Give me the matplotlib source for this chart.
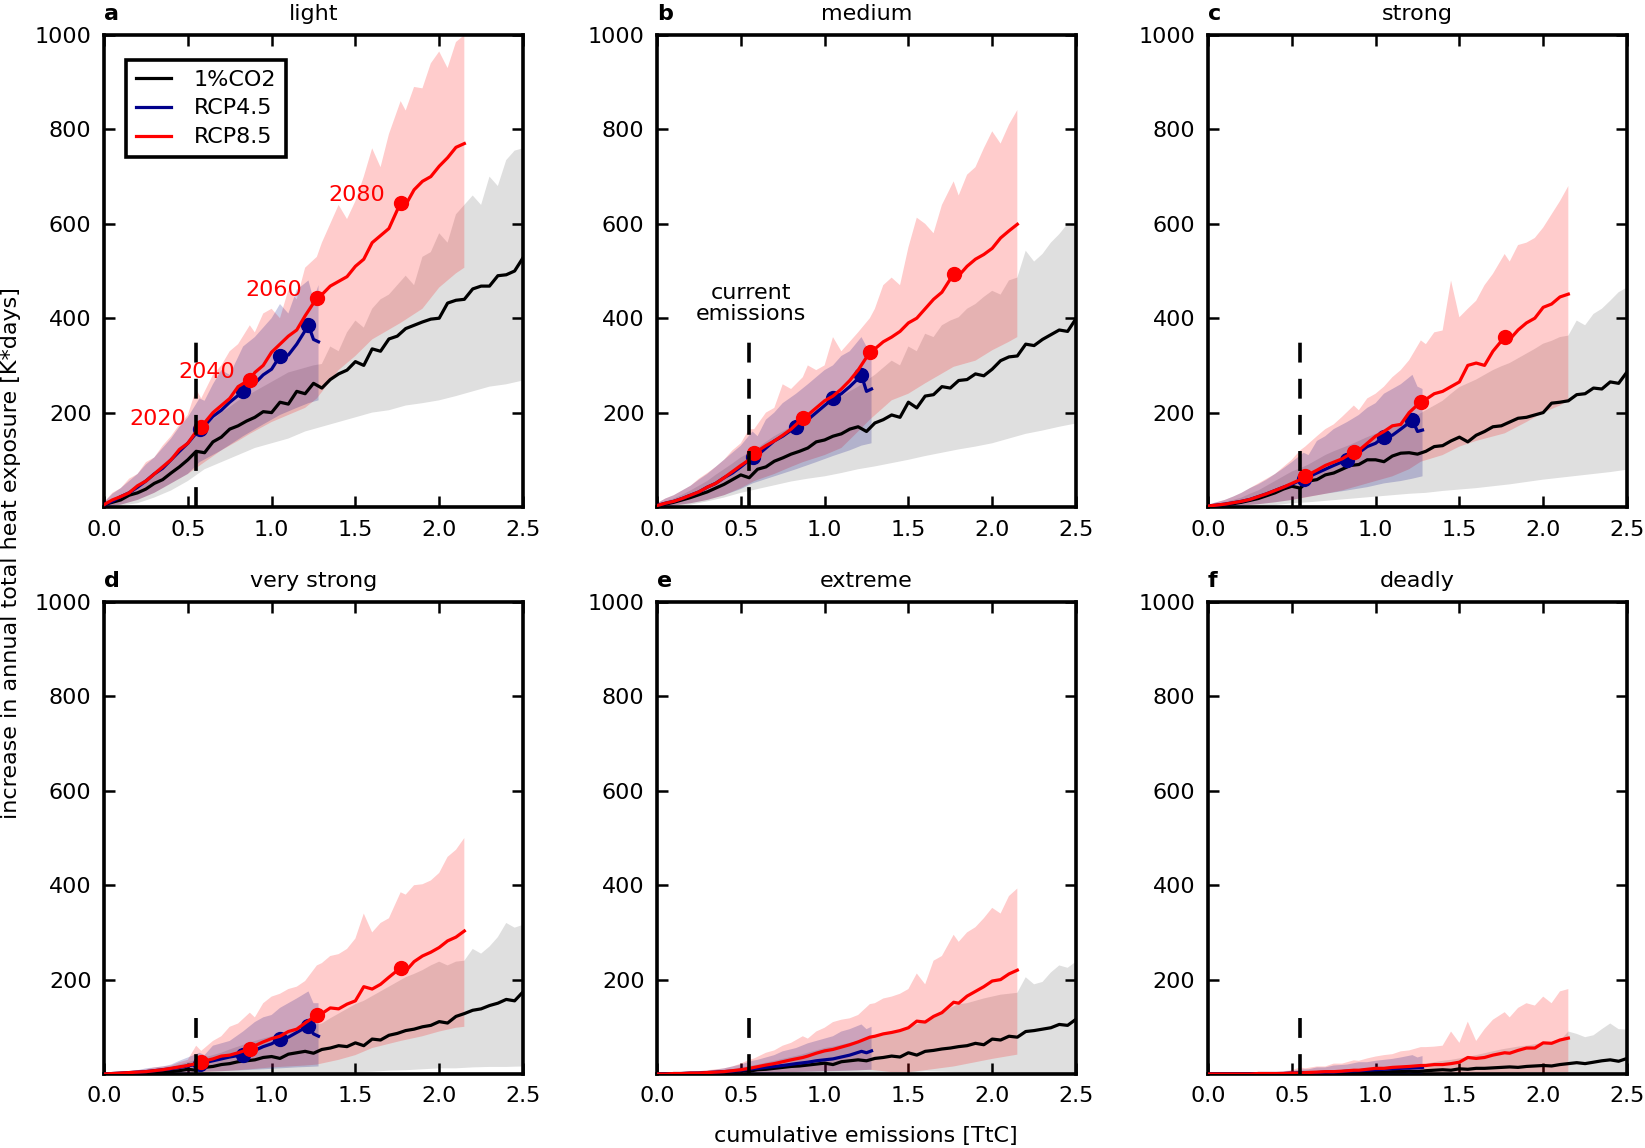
import matplotlib
matplotlib.use("Agg")
import matplotlib.pyplot as plt

# ---------------- data ----------------
PANEL_LETTERS = ["a", "b", "c", "d", "e", "f"]
PANEL_TITLES = ["light", "medium", "strong", "very strong", "extreme", "deadly"]
LEGEND_LABELS = ["1%CO2", "RCP4.5", "RCP8.5"]
YEAR_LABELS = ["2020", "2040", "2060", "2080"]
CURRENT_EMISSIONS = 0.55

# cumulative emissions grids [TtC] for the mean lines and upper range edges
X_CO2 = [0.00, 0.05, 0.10, 0.15, 0.20, 0.25, 0.30, 0.35, 0.40, 0.45,
         0.50, 0.55, 0.60, 0.65, 0.70, 0.75, 0.80, 0.85, 0.90, 0.95,
         1.00, 1.05, 1.10, 1.15, 1.20, 1.25, 1.30, 1.35, 1.40, 1.45,
         1.50, 1.55, 1.60, 1.65, 1.70, 1.75, 1.80, 1.85, 1.90, 1.95,
         2.00, 2.05, 2.10, 2.15, 2.20, 2.25, 2.30, 2.35, 2.40, 2.45, 2.50]
X_R85 = [0.00, 0.05, 0.10, 0.15, 0.20, 0.25, 0.30, 0.35, 0.40, 0.45,
         0.50, 0.55, 0.58, 0.65, 0.70, 0.75, 0.80, 0.87, 0.90, 0.95,
         1.00, 1.05, 1.10, 1.15, 1.20, 1.27, 1.30, 1.35, 1.40, 1.45,
         1.50, 1.55, 1.60, 1.65, 1.70, 1.77, 1.80, 1.85, 1.90, 1.95,
         2.00, 2.05, 2.10, 2.15]
X_R45 = [0.00, 0.05, 0.10, 0.15, 0.20, 0.25, 0.30, 0.35, 0.40, 0.45,
         0.50, 0.57, 0.60, 0.65, 0.70, 0.75, 0.83, 0.90, 0.95, 1.00,
         1.05, 1.10, 1.15, 1.22, 1.25, 1.28]
R85_DOT_IDX = [12, 17, 25, 35]   # years 2020, 2040, 2060, 2080
R45_DOT_IDX = [11, 16, 20, 23]

# coarser grids for the lower range edges
XB_CO2 = [0.0, 0.1, 0.2, 0.3, 0.4, 0.5, 0.6, 0.7, 0.8, 0.9, 1.0, 1.1, 1.2, 1.3,
          1.4, 1.5, 1.6, 1.7, 1.8, 1.9, 2.0, 2.1, 2.2, 2.3, 2.4, 2.5]
XB_R85 = [0.0, 0.1, 0.2, 0.3, 0.4, 0.5, 0.58, 0.7, 0.8, 0.87, 1.0, 1.1, 1.2, 1.27,
          1.4, 1.5, 1.6, 1.77, 1.9, 2.0, 2.1, 2.15]
XB_R45 = [0.0, 0.1, 0.2, 0.3, 0.4, 0.5, 0.57, 0.7, 0.83, 0.95, 1.05, 1.15, 1.22, 1.28]

# ---- panel a: light
A_CO2_MEAN = [5, 10, 15, 25, 30, 38, 50, 58, 72, 85,
              100, 118, 115, 138, 148, 165, 172, 182, 190, 202,
              200, 222, 218, 245, 240, 262, 252, 270, 282, 290,
              308, 300, 335, 330, 356, 362, 378, 385, 392, 398,
              400, 432, 438, 440, 462, 468, 468, 490, 492, 500, 528]
A_CO2_HI = [10, 18, 25, 35, 48, 60, 75, 90, 105, 120,
            140, 155, 170, 185, 200, 212, 225, 235, 245, 255,
            265, 275, 285, 290, 295, 300, 303, 340, 330, 370,
            395, 380, 420, 440, 450, 470, 490, 470, 530, 540,
            580, 560, 620, 640, 660, 640, 700, 680, 735, 755, 760]
A_CO2_LO = [0, 3, 8, 20, 35, 55, 80, 95, 110, 125, 135, 145, 160, 170, 180, 190, 200, 205, 215, 220, 226, 235, 245, 255, 260, 268]
A_R85_MEAN = [5, 15, 22, 30, 45, 55, 70, 85, 100, 122,
              135, 160, 170, 200, 215, 230, 255, 270, 285, 300,
              328, 345, 362, 375, 405, 443, 450, 468, 478, 488,
              510, 525, 560, 575, 590, 645, 640, 672, 690, 700,
              722, 740, 762, 770]
A_R85_HI = [10, 30, 40, 60, 70, 95, 105, 130, 150, 175,
            195, 250, 230, 280, 300, 330, 345, 385, 370, 410,
            420, 400, 460, 440, 507, 530, 560, 600, 640, 610,
            648, 700, 760, 720, 790, 860, 840, 890, 887, 940,
            965, 930, 985, 1000]
A_R85_LO = [0, 5, 15, 30, 50, 70, 90, 120, 140, 155, 180, 195, 210, 230, 290, 320, 355, 390, 420, 465, 495, 507]
A_R45_MEAN = [5, 12, 22, 30, 42, 55, 70, 82, 100, 118,
              135, 165, 172, 192, 205, 222, 245, 262, 280, 292,
              320, 322, 345, 385, 355, 350]
A_R45_HI = [10, 28, 40, 55, 70, 90, 105, 125, 145, 170,
            190, 230, 225, 260, 290, 280, 340, 360, 380, 400,
            430, 410, 460, 480, 440, 470]
A_R45_LO = [0, 5, 15, 30, 50, 70, 95, 120, 150, 175, 195, 210, 220, 226]

# ---- panel b: medium
B_CO2_MEAN = [3, 6, 10, 15, 20, 26, 32, 40, 48, 58,
              68, 62, 80, 85, 97, 104, 112, 118, 125, 138,
              142, 150, 155, 165, 170, 160, 178, 185, 195, 190,
              222, 210, 235, 238, 255, 252, 268, 270, 282, 278,
              292, 310, 318, 320, 345, 342, 355, 365, 375, 372, 399]
B_CO2_HI = [6, 12, 18, 26, 35, 45, 55, 68, 80, 92,
            105, 115, 125, 138, 150, 160, 170, 182, 195, 205,
            215, 225, 235, 245, 255, 268, 280, 295, 310, 300,
            340, 330, 367, 360, 385, 395, 402, 420, 430, 445,
            458, 450, 480, 486, 543, 520, 536, 560, 578, 600, 599]
B_CO2_LO = [0, 2, 5, 12, 20, 30, 38, 46, 54, 60, 65, 72, 80, 86, 93, 100, 108, 115, 122, 128, 135, 145, 155, 162, 170, 177]
B_R85_MEAN = [3, 8, 12, 18, 25, 32, 42, 50, 62, 75,
              88, 100, 114, 130, 140, 152, 165, 188, 195, 210,
              225, 235, 250, 268, 290, 328, 335, 350, 360, 372,
              390, 400, 420, 440, 455, 494, 490, 510, 525, 535,
              548, 570, 585, 599]
B_R85_HI = [8, 18, 25, 35, 45, 60, 72, 85, 100, 120,
            135, 165, 165, 200, 210, 260, 250, 275, 300, 290,
            300, 360, 330, 350, 370, 400, 420, 470, 486, 470,
            550, 613, 600, 580, 640, 690, 660, 704, 720, 760,
            796, 770, 810, 841]
B_R85_LO = [0, 3, 8, 15, 25, 40, 55, 70, 85, 95, 110, 125, 160, 185, 226, 240, 262, 297, 310, 332, 350, 360]
B_R45_MEAN = [3, 8, 12, 18, 25, 32, 42, 50, 62, 72,
              85, 105, 110, 125, 140, 150, 170, 185, 200, 215,
              230, 240, 255, 279, 245, 250]
B_R45_HI = [8, 18, 25, 35, 45, 58, 70, 85, 100, 115,
            130, 160, 150, 185, 200, 220, 240, 260, 275, 290,
            300, 320, 330, 360, 340, 340]
B_R45_LO = [0, 3, 8, 15, 25, 38, 50, 65, 80, 95, 108, 120, 130, 135]

# ---- panel c: strong
C_CO2_MEAN = [2, 3, 5, 7, 10, 14, 18, 24, 30, 38,
              44, 40, 55, 58, 68, 72, 80, 88, 90, 100,
              100, 96, 108, 114, 115, 112, 118, 128, 130, 140,
              148, 138, 152, 160, 170, 172, 180, 188, 190, 195,
              200, 220, 222, 225, 238, 240, 252, 250, 265, 262, 286]
C_CO2_HI = [4, 7, 10, 15, 20, 28, 35, 45, 55, 65,
            75, 82, 90, 100, 110, 118, 125, 132, 140, 148,
            155, 162, 170, 178, 185, 195, 205, 215, 225, 240,
            254, 262, 270, 280, 290, 298, 305, 315, 325, 335,
            346, 352, 360, 363, 395, 385, 409, 420, 437, 455, 465]
C_CO2_LO = [0, 0, 1, 2, 4, 8, 10, 13, 16, 19, 22, 25, 28, 30, 34, 37, 40, 44, 48, 53, 58, 62, 66, 70, 74, 79]
C_R85_MEAN = [2, 4, 6, 9, 12, 16, 22, 28, 35, 42,
              50, 58, 65, 78, 88, 95, 102, 117, 120, 135,
              150, 160, 172, 175, 200, 223, 228, 240, 245, 255,
              265, 300, 305, 300, 330, 360, 355, 375, 390, 400,
              423, 430, 445, 451]
C_R85_HI = [5, 10, 15, 22, 30, 40, 50, 60, 70, 85,
            100, 120, 128, 150, 165, 175, 191, 215, 205, 230,
            240, 255, 275, 290, 311, 353, 345, 370, 374, 480,
            402, 420, 437, 470, 494, 536, 520, 555, 560, 570,
            592, 620, 648, 680]
C_R85_LO = [0, 1, 3, 6, 10, 15, 20, 28, 35, 42, 55, 65, 80, 96, 110, 128, 140, 156, 180, 200, 215, 226]
C_R45_MEAN = [2, 4, 6, 9, 12, 16, 22, 28, 35, 42,
              48, 60, 64, 72, 80, 88, 100, 115, 128, 135,
              149, 152, 165, 184, 160, 163]
C_R45_HI = [5, 10, 15, 22, 30, 40, 48, 58, 70, 82,
            95, 115, 110, 140, 150, 165, 180, 195, 210, 220,
            240, 250, 260, 280, 255, 250]
C_R45_LO = [0, 1, 3, 6, 10, 15, 20, 28, 35, 42, 50, 55, 60, 65]

# ---- panel d: very strong
D_CO2_MEAN = [0, 0, 1, 1, 2, 2, 3, 4, 5, 7,
              10, 8, 14, 16, 20, 22, 26, 28, 30, 35,
              37, 33, 42, 45, 48, 44, 52, 55, 60, 58,
              66, 60, 74, 72, 82, 86, 92, 95, 100, 103,
              111, 108, 122, 128, 135, 138, 145, 150, 158, 155, 174]
D_CO2_HI = [1, 2, 3, 5, 6, 8, 10, 13, 16, 20,
            25, 30, 35, 40, 45, 52, 58, 64, 70, 75,
            80, 85, 90, 95, 100, 104, 107, 118, 128, 138,
            148, 155, 165, 175, 185, 195, 205, 212, 220, 230,
            238, 230, 238, 240, 265, 255, 270, 290, 320, 310, 316]
D_CO2_LO = [0, 0, 0, 0, 0, 0, 0, 0, 0, 0, 0, 0, 0, 0, 1, 4, 5, 7, 8, 10, 12, 12, 14, 15, 15, 16]
D_R85_MEAN = [0, 1, 2, 3, 4, 5, 7, 9, 12, 15,
              18, 22, 26, 32, 38, 40, 45, 53, 60, 68,
              75, 80, 90, 95, 108, 125, 128, 140, 138, 148,
              155, 185, 180, 190, 205, 225, 218, 238, 250, 258,
              268, 282, 290, 303]
D_R85_HI = [1, 2, 4, 6, 8, 10, 14, 16, 18, 25,
            30, 60, 49, 70, 80, 100, 107, 130, 120, 150,
            164, 170, 180, 185, 197, 230, 235, 250, 254, 265,
            287, 340, 300, 320, 330, 385, 380, 400, 402, 410,
            426, 460, 475, 500]
D_R85_LO = [0, 0, 0, 0, 1, 2, 4, 6, 8, 10, 14, 16, 18, 20, 30, 40, 55, 70, 80, 90, 98, 100]
D_R45_MEAN = [0, 1, 2, 3, 4, 5, 7, 9, 11, 14,
              17, 22, 24, 28, 32, 36, 41, 50, 58, 64,
              74, 78, 88, 102, 85, 80]
D_R45_HI = [1, 2, 4, 6, 8, 12, 14, 16, 20, 28,
            35, 45, 40, 60, 65, 70, 90, 110, 120, 125,
            140, 150, 160, 175, 150, 150]
D_R45_LO = [0, 0, 0, 1, 2, 3, 5, 6, 8, 10, 12, 14, 15, 16]

# ---- panel e: extreme
E_CO2_MEAN = [0, 0, 0, 1, 1, 1, 2, 3, 4, 5,
              7, 6, 9, 10, 12, 14, 16, 17, 19, 21,
              23, 20, 26, 28, 30, 28, 33, 35, 38, 36,
              45, 40, 48, 50, 53, 55, 58, 60, 65, 62,
              74, 72, 80, 78, 90, 92, 95, 98, 105, 103, 116]
E_CO2_HI = [0, 0, 1, 1, 2, 3, 4, 6, 8, 10,
            14, 17, 20, 24, 28, 32, 36, 40, 45, 50,
            55, 58, 62, 66, 70, 74, 78, 84, 88, 92,
            98, 105, 115, 120, 130, 140, 148, 150, 155, 160,
            164, 168, 170, 172, 205, 190, 195, 215, 230, 225, 238]
E_CO2_LO = [0, 0, 0, 0, 0, 0, 0, 0, 0, 0, 0, 0, 0, 0, 1, 3, 6, 5, 4, 3, 2, 3, 2, 2, 1, 2]
E_R85_MEAN = [0, 0, 1, 1, 2, 2, 3, 4, 5, 7,
              9, 12, 14, 19, 22, 26, 30, 35, 38, 44,
              49, 52, 57, 62, 68, 78, 80, 85, 88, 92,
              98, 112, 110, 122, 130, 152, 150, 165, 175, 185,
              197, 200, 212, 220]
E_R85_HI = [0, 1, 2, 3, 4, 6, 8, 10, 12, 16,
            22, 30, 33, 45, 50, 60, 66, 80, 75, 90,
            98, 110, 115, 118, 125, 148, 150, 160, 164, 170,
            180, 213, 190, 240, 250, 295, 280, 300, 311, 330,
            352, 340, 377, 393]
E_R85_LO = [0, 0, 0, 0, 0, 1, 2, 3, 4, 5, 6, 7, 8, 9, 4, 4, 8, 16, 25, 32, 38, 41]
E_R45_MEAN = [0, 0, 1, 1, 2, 2, 3, 4, 5, 6,
              8, 11, 12, 14, 16, 18, 22, 25, 28, 30,
              32, 36, 40, 48, 45, 49]
E_R45_HI = [0, 1, 2, 3, 4, 6, 7, 9, 12, 16,
            20, 28, 30, 35, 40, 48, 55, 65, 70, 75,
            80, 90, 95, 105, 95, 100]
E_R45_LO = [0, 0, 0, 0, 0, 1, 2, 3, 4, 5, 6, 7, 8, 9]

# ---- panel f: deadly
F_CO2_MEAN = [0, 0, 0, 0, 0, 0, 0, 0, 0, 0,
              0, 0, 1, 1, 1, 1, 2, 2, 3, 3,
              4, 4, 5, 5, 6, 5, 7, 8, 9, 8,
              11, 10, 12, 12, 13, 14, 15, 14, 16, 17,
              18, 17, 20, 22, 24, 22, 25, 28, 30, 27, 33]
F_CO2_HI = [0, 0, 0, 0, 0, 0, 0, 1, 1, 1,
            2, 2, 3, 4, 5, 6, 7, 8, 10, 11,
            12, 13, 15, 16, 18, 20, 22, 25, 28, 30,
            33, 36, 40, 44, 48, 52, 55, 58, 60, 63,
            66, 68, 70, 90, 85, 78, 82, 95, 107, 95, 94]
F_CO2_LO = [0, 0, 0, 0, 0, 0, 0, 0, 0, 0, 0, 0, 0, 0, 0, 0, 0, 0, 0, 0, 0, 0, 0, 0, 0, 0]
F_R85_MEAN = [0, 0, 0, 0, 0, 0, 1, 1, 1, 1,
              2, 2, 3, 4, 5, 5, 6, 8, 8, 10,
              12, 12, 14, 15, 16, 18, 18, 20, 20, 22,
              25, 35, 33, 35, 40, 45, 44, 50, 55, 55,
              66, 65, 72, 76]
F_R85_HI = [0, 0, 0, 0, 1, 1, 2, 3, 4, 6,
            8, 14, 12, 16, 16, 22, 22, 29, 28, 33,
            37, 40, 42, 48, 50, 57, 57, 58, 60, 90,
            66, 111, 70, 95, 115, 131, 120, 140, 150, 145,
            164, 150, 175, 180]
F_R85_LO = [0, 0, 0, 0, 0, 0, 0, 0, 0, 0, 0, 0, 0, 0, 0, 0, 1, 2, 3, 3, 4, 4]
F_R45_MEAN = [0, 0, 0, 0, 0, 0, 1, 1, 1, 1,
              2, 3, 3, 3, 4, 4, 6, 7, 8, 9,
              10, 11, 12, 13, 13, 14]
F_R45_HI = [0, 0, 0, 0, 1, 1, 2, 2, 4, 5,
            7, 10, 10, 14, 14, 18, 20, 25, 25, 28,
            30, 32, 35, 40, 35, 38]
F_R45_LO = [0, 0, 0, 0, 0, 0, 0, 0, 0, 0, 0, 0, 0, 0]

PANELS = [
    (A_CO2_MEAN, A_CO2_LO, A_CO2_HI, A_R45_MEAN, A_R45_LO, A_R45_HI, A_R85_MEAN, A_R85_LO, A_R85_HI),
    (B_CO2_MEAN, B_CO2_LO, B_CO2_HI, B_R45_MEAN, B_R45_LO, B_R45_HI, B_R85_MEAN, B_R85_LO, B_R85_HI),
    (C_CO2_MEAN, C_CO2_LO, C_CO2_HI, C_R45_MEAN, C_R45_LO, C_R45_HI, C_R85_MEAN, C_R85_LO, C_R85_HI),
    (D_CO2_MEAN, D_CO2_LO, D_CO2_HI, D_R45_MEAN, D_R45_LO, D_R45_HI, D_R85_MEAN, D_R85_LO, D_R85_HI),
    (E_CO2_MEAN, E_CO2_LO, E_CO2_HI, E_R45_MEAN, E_R45_LO, E_R45_HI, E_R85_MEAN, E_R85_LO, E_R85_HI),
    (F_CO2_MEAN, F_CO2_LO, F_CO2_HI, F_R45_MEAN, F_R45_LO, F_R45_HI, F_R85_MEAN, F_R85_LO, F_R85_HI),
]
SHOW_DOTS = [True, True, True, True, False, False]
DASH_TOP = [350, 350, 350, 125, 125, 125]

X_TICKS = [0.0, 0.5, 1.0, 1.5, 2.0, 2.5]
Y_TICKS = [200, 400, 600, 800, 1000]

# ---------------- style ----------------
FS = 16
plt.rcParams["font.family"] = ["DejaVu Sans"]
plt.rcParams["font.size"] = FS

C_BLACK = "black"
C_BLUE = "#00008b"
C_RED = "#ff0000"

fig = plt.figure(figsize=(16.45, 11.48), dpi=100)

lefts = [104 / 1645, 657 / 1645, 1208 / 1645]
width = 419 / 1645
bottoms = [1 - 507 / 1148, 1 - 1074 / 1148]
height = 472 / 1148

axes = []
for r in range(2):
    for c in range(3):
        axes.append(fig.add_axes([lefts[c], bottoms[r], width, height]))


def band(ax, x_hi, hi, x_lo, lo, **kw):
    # polygon: upper edge left->right, lower edge right->left
    ax.fill(list(x_hi) + list(x_lo)[::-1], list(hi) + list(lo)[::-1], lw=0, **kw)


for i, ax in enumerate(axes):
    (co2_m, co2_lo, co2_hi, r45_m, r45_lo, r45_hi, r85_m, r85_lo, r85_hi) = PANELS[i]

    band(ax, X_CO2, co2_hi, XB_CO2, co2_lo, color="gray", alpha=0.25, zorder=1)
    band(ax, X_R85, r85_hi, XB_R85, r85_lo, color=C_RED, alpha=0.2, zorder=2)
    band(ax, X_R45, r45_hi, XB_R45, r45_lo, color="navy", alpha=0.2, zorder=3)

    ax.plot(X_CO2, co2_m, color=C_BLACK, lw=2.3, zorder=5, label=LEGEND_LABELS[0])
    ax.plot(X_R45, r45_m, color=C_BLUE, lw=2.3, zorder=6, label=LEGEND_LABELS[1])
    ax.plot(X_R85, r85_m, color=C_RED, lw=2.3, zorder=7, label=LEGEND_LABELS[2])

    if SHOW_DOTS[i]:
        ax.plot([X_R45[k] for k in R45_DOT_IDX], [r45_m[k] for k in R45_DOT_IDX],
                "o", color=C_BLUE, ms=10, mec=C_BLUE, zorder=6)
        ax.plot([X_R85[k] for k in R85_DOT_IDX], [r85_m[k] for k in R85_DOT_IDX],
                "o", color=C_RED, ms=10, mec=C_RED, zorder=8)

    ax.plot([CURRENT_EMISSIONS, CURRENT_EMISSIONS], [0, DASH_TOP[i]], color="black",
            lw=2.6, linestyle=(0, (5.5, 4.5)), zorder=9)

    ax.set_xlim(0, 2.5)
    ax.set_ylim(0, 1000)
    ax.set_xticks(X_TICKS)
    ax.set_xticklabels(["%.1f" % t for t in X_TICKS])
    ax.set_yticks(Y_TICKS)
    ax.set_yticklabels([str(t) for t in Y_TICKS])
    ax.tick_params(direction="in", top=True, right=True, length=8, width=1.8,
                   labelsize=FS, pad=9)
    for s in ax.spines.values():
        s.set_linewidth(2.6)

    ax.set_title(PANEL_TITLES[i], fontsize=FS, pad=11)
    ax.set_title(PANEL_LETTERS[i], loc="left", fontsize=FS, fontweight="bold", pad=11)

# legend in panel a
leg = axes[0].legend(loc="upper left", bbox_to_anchor=(0.052, 0.948), borderaxespad=0,
                     fontsize=FS, handlelength=1.6, handletextpad=1.0, labelspacing=0.4,
                     fancybox=False, framealpha=1, edgecolor="black", borderpad=0.45)
leg.get_frame().set_linewidth(2.6)

# year labels in panel a
for lbl, k in zip(YEAR_LABELS, R85_DOT_IDX):
    axes[0].text(X_R85[k] - 0.09, A_R85_MEAN[k] + 16, lbl, color=C_RED, fontsize=FS,
                 ha="right", va="center", zorder=10)

# current emissions annotation in panel b
axes[1].text(0.56, 431, "current\nemissions", ha="center", va="center",
             fontsize=FS, linespacing=1.05)

fig.text(0.0065, 0.518, "increase in annual total heat exposure [K*days]",
         rotation=90, ha="center", va="center", fontsize=FS)
fig.text(866 / 1645, 1 - 1136 / 1148, "cumulative emissions [TtC]",
         ha="center", va="center", fontsize=FS)

fig.savefig("out.png", dpi=100)
